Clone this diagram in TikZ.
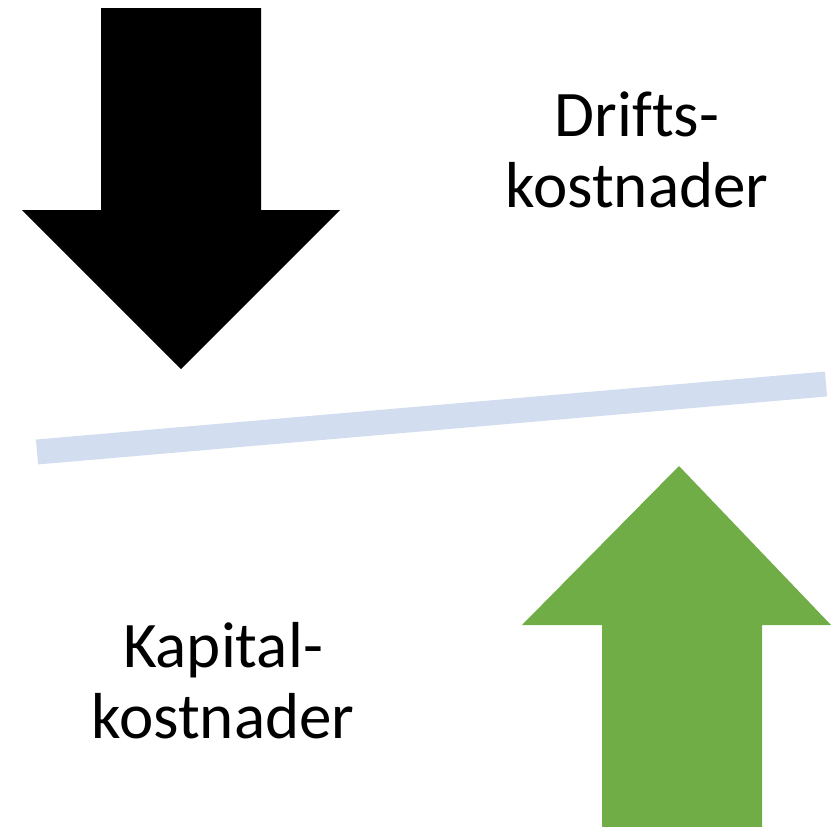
\documentclass[tikz,border=0pt]{standalone}
\usepackage{fontspec}
\setmainfont[Ligatures={TeX,CommonOff}]{Carlito}
\usepackage{tikz}
\usepackage{color}
\definecolor{barblue}{RGB}{210,222,239}
\definecolor{upgreen}{RGB}{112,173,71}
\tikzset{
    label/.style={
           align=center,
           inner sep=0pt,
           anchor=base,
           font=\fontsize{65}{71}\selectfont,
           },
    bigarrow/.style={
           draw=none,
           },
}
\begin{document}
\begin{tikzpicture}[x=1pt,y=-1pt]
    \useasboundingbox (0,0) rectangle (831,827);

    % down arrow: operating costs
    \fill[bigarrow, black] (101,8) -- (261,8) -- (261,210) -- (340,210)
        -- (181,369) -- (22,210) -- (101,210) -- cycle;

    % up arrow: capital costs
    \fill[bigarrow, upgreen] (602,827) -- (762,827) -- (762,625) -- (831,625)
        -- (679,466) -- (522,625) -- (602,625) -- cycle;

    % tilted balance bar
    \coordinate (barl) at (37,452);
    \coordinate (barr) at (826,384);
    \draw[barblue, line width=25pt] (barl) -- (barr);

    % base anchor sits on the last line
    \node[label] (drift) at (637,207) {Drifts-\\kostnader};
    \node[label] (kapital) at (223,738) {Kapital-\\kostnader};
\end{tikzpicture}
\end{document}
